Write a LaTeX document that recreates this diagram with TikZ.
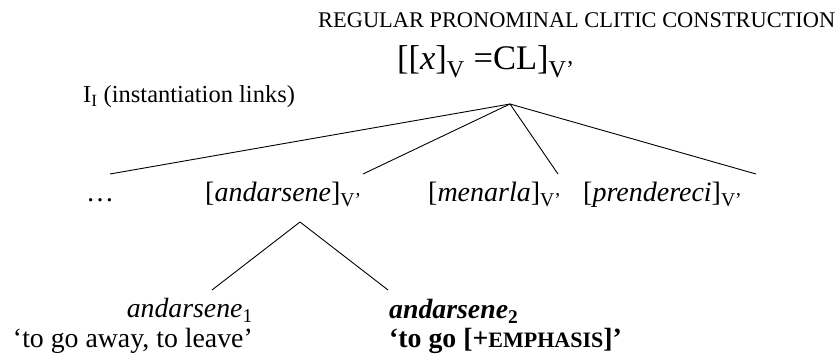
\documentclass[tikz,border=0pt]{standalone}
\usepackage{fontspec}
\setmainfont{Liberation Serif}
\usetikzlibrary{positioning}
\newcommand{\sub}[1]{\textsubscript{#1}}
\newcommand{\vbar}{\sub{V’}}
\tikzset{
  titletext/.style={font=\fontsize{22.4}{26}\selectfont, inner sep=0pt},
  formulatext/.style={font=\fontsize{34.5}{38}\selectfont, inner sep=0pt},
  linktext/.style={font=\fontsize{24.5}{27}\selectfont, inner sep=0pt},
  verbtext/.style={font=\fontsize{28}{31}\selectfont, inner sep=0pt},
  glosstext/.style={font=\fontsize{27.8}{31}\selectfont, inner sep=0pt},
  treeline/.style={draw=black, line width=0.9pt},
}

\begin{document}
\begin{tikzpicture}[x=1pt, y=1pt]
  \useasboundingbox (0,0) rectangle (838,-363);

  % Construction at the top
  \node[titletext, anchor=base west] (title) at (318,-28) {REGULAR PRONOMINAL CLITIC CONSTRUCTION};
  \node[formulatext, anchor=base west] (formula) at (397,-70) {[[\textit{x}]\sub{V} =CL]\vbar};
  \coordinate (top) at (510,-104);
  \node[linktext, anchor=base west] (links) at (83,-103) {I\sub{I} (instantiation links)};

  % Instantiated verbs
  \node[verbtext, anchor=base west] (dots) at (86,-202) {\dots};
  \node[verbtext, anchor=base west] (andarsene) at (205,-202) {[\textit{andarsene}]\vbar};
  \node[verbtext, anchor=base west] (menarla) at (428,-202) {[\textit{menarla}]\vbar};
  \node[verbtext, anchor=base west] (prendereci) at (583,-202) {[\textit{prendereci}]\vbar};

  \coordinate (dotsend) at (110,-174);
  \coordinate (andend) at (363,-174);
  \coordinate (menend) at (558,-174);
  \coordinate (prendend) at (756,-174);
  \draw[treeline] (top) -- (dotsend);
  \draw[treeline] (top) -- (andend);
  \draw[treeline] (top) -- (menend);
  \draw[treeline] (top) -- (prendend);

  % Two senses of andarsene
  \coordinate (andtop) at (300,-222);
  \coordinate (leftend) at (212,-290);
  \coordinate (rightend) at (388,-290);
  \draw[treeline] (andtop) -- (leftend);
  \draw[treeline] (andtop) -- (rightend);

  \node[glosstext, anchor=base east] (sense1) at (253,-318) {\textit{andarsene}\sub{1}};
  \node[glosstext, anchor=base east] (gloss1) at (253,-347) {‘to go away, to leave’};
  \node[glosstext, anchor=base west] (sense2) at (389,-319) {\textbf{\textit{andarsene}\sub{2}}};
  \node[glosstext, anchor=base west] (gloss2) at (389,-347) {\textbf{‘to go [+{\fontsize{22}{25}\selectfont EMPHASIS}]’}};
\end{tikzpicture}
\end{document}
